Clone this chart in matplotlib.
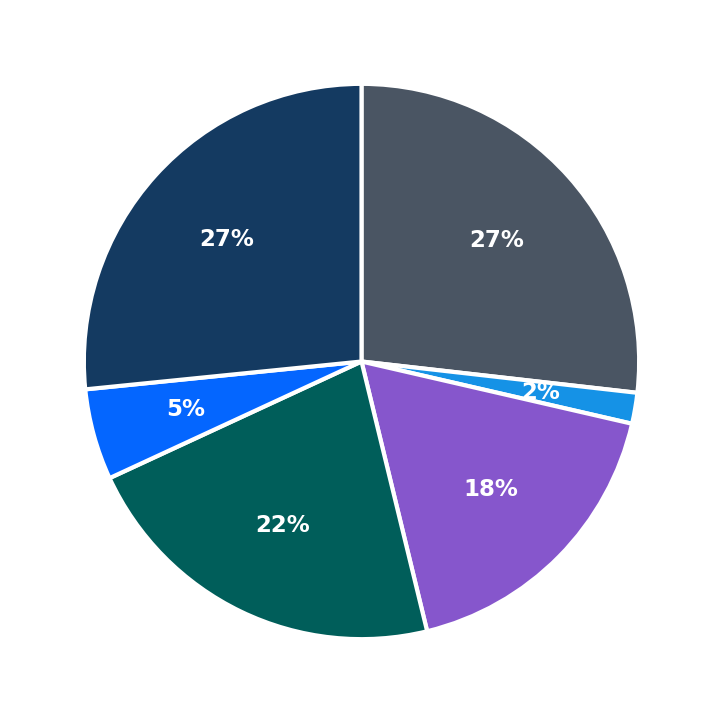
import matplotlib.pyplot as plt

labels = ["A", "B", "C", "D", "E", "F"]
values = [26.8, 1.8, 17.6, 21.9, 5.3, 26.6]
colors = ["#4a5563", "#1592e6", "#8656cc", "#005e5a", "#0466ff", "#143a61"]

fig = plt.figure(figsize=(7.23, 7.23), dpi=100)
ax = fig.add_axes([0, 0, 1, 1])

wedges, texts, autotexts = ax.pie(
    values,
    colors=colors,
    startangle=90,
    counterclock=False,
    autopct="%1.0f%%",
    pctdistance=0.655,
    radius=1.0,
    wedgeprops={"edgecolor": "white", "linewidth": 3},
    textprops={"color": "white", "fontsize": 16.5, "fontweight": "bold"},
)

ax.set_xlim(-1.302, 1.302)
ax.set_ylim(-1.302, 1.302)
ax.set_aspect("equal")
ax.axis("off")

plt.savefig("out.png", dpi=100)
plt.close()
